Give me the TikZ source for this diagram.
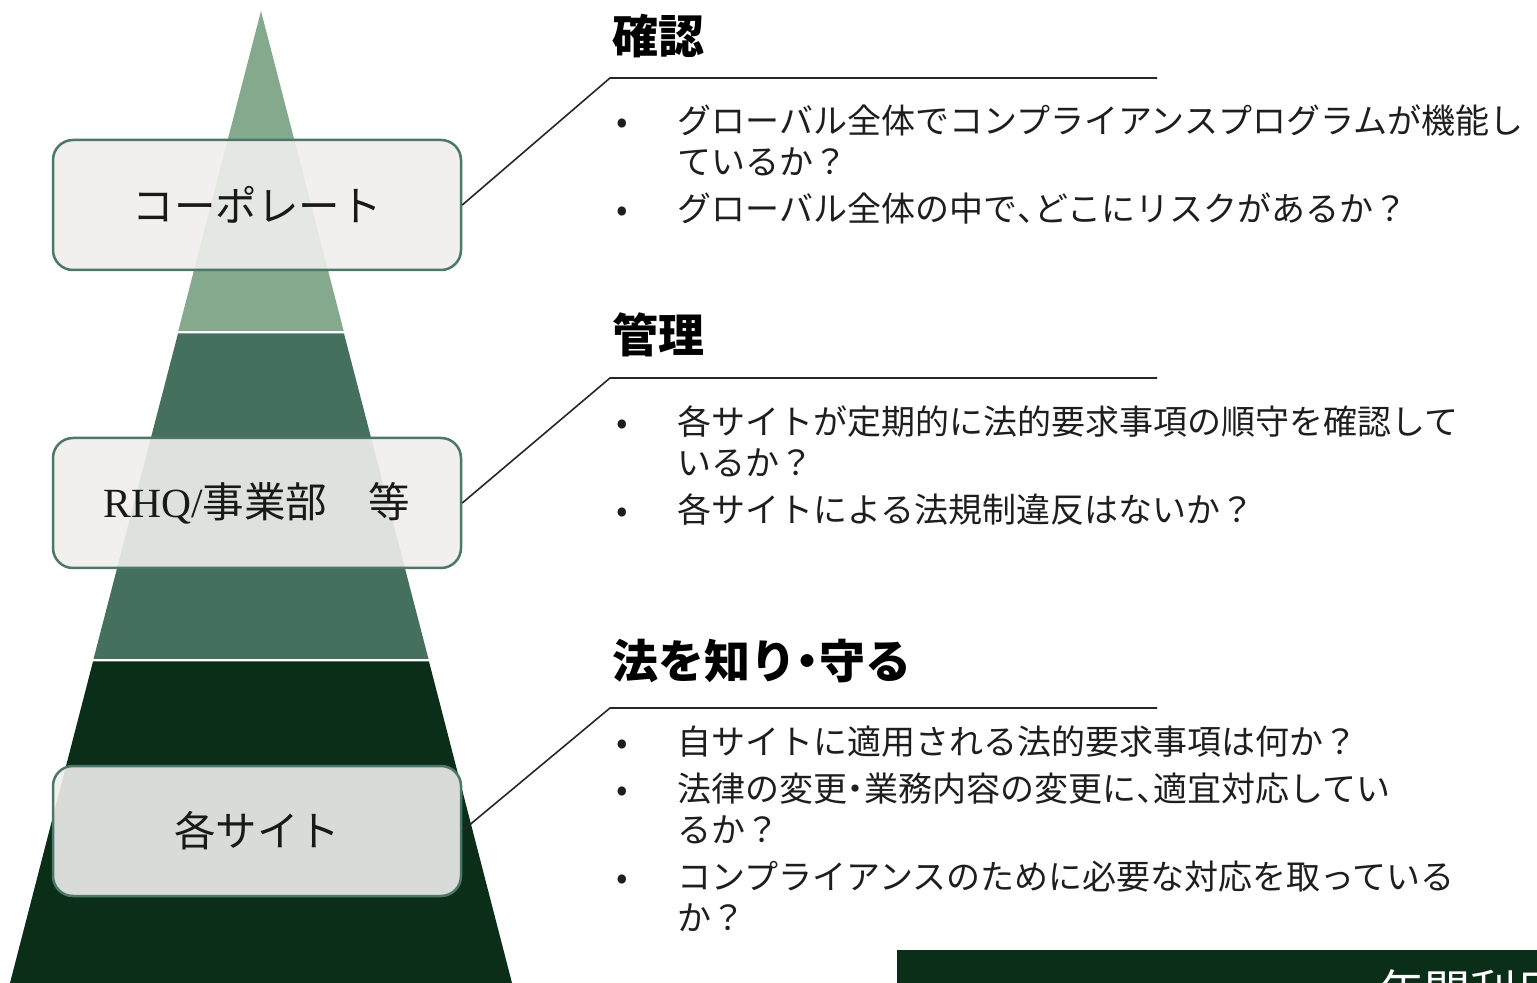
\documentclass[tikz,border=0pt]{standalone}
\usepackage{fontspec}
\newfontfamily\jpfont{Noto Sans CJK JP}
\newfontfamily\latinserif{Liberation Serif}
\usetikzlibrary{positioning}
\definecolor{pyrtop}{RGB}{132, 169, 140}
\definecolor{pyrmid}{RGB}{70, 112, 94}
\definecolor{pyrbot}{RGB}{11, 46, 24}
\definecolor{boxfill}{RGB}{239, 238, 236}
\definecolor{boxline}{RGB}{75, 120, 104}
\definecolor{bodytext}{RGB}{30, 30, 30}
\tikzset{
	level/.style={draw=boxline, line width=1.25pt, fill=boxfill, fill opacity=0.9, text opacity=1,
		rounded corners=10pt, minimum width=204pt, minimum height=65pt,
		font=\jpfont\fontsize{20.75pt}{24pt}\selectfont, text=black!90},
	heading/.style={anchor=west, inner sep=0pt, font=\jpfont\bfseries\fontsize{23pt}{26pt}\selectfont},
	itemlist/.style={anchor=north west, inner sep=0pt, text width=470pt, align=left, text=bodytext,
		font=\jpfont\fontsize{17pt}{20.5pt}\selectfont,
		execute at begin node={\setlength{\parskip}{3pt}}},
	callout/.style={line width=0.8pt, black!85}
}
\newcommand{\bitem}[1]{% {text}
	\par\noindent\hangindent=32.5pt\hangafter=1\makebox[32.5pt][l]{\hspace{2pt}•}#1% bullet + hanging indent
}
\newcommand{\hdot}{\makebox[0.5em]{・}}% narrow middle dot
\newcommand{\hcomma}{\makebox[0.5em][l]{、}}% narrow comma

\begin{document}
\begin{tikzpicture}[x=0.5pt, y=-0.5pt]
	\useasboundingbox (0,0) rectangle (1537,983);
	\clip (0,0) rectangle (1537,983);

	% pyramid
	\fill[pyrtop] (261,11) -- (343.7,331) -- (178.3,331) -- cycle;
	\fill[pyrmid] (178,333.5) -- (344,333.5) -- (428.5,659) -- (93.5,659) -- cycle;
	\fill[pyrbot] (93,661.5) -- (429,661.5) -- (512,983) -- (10,983) -- cycle;

	\node[level] (corp) at (257,205) {コーポレート};
	\node[level] (rhq) at (257,503) {{\latinserif RHQ/}事業部　等};
	\node[level] (site) at (257,831) {各サイト};

	% right side
	\node[heading] (h1) at (612,36) {確認};
	\node[heading] (h2) at (612,335) {管理};
	\node[heading] (h3) at (612,661) {法を知り\hdot 守る};

	\coordinate (k1) at (610,78);  \coordinate (e1) at (1157,78);
	\coordinate (k2) at (610,378); \coordinate (e2) at (1157,378);
	\coordinate (k3) at (610,708); \coordinate (e3) at (1157,708);
	\draw[callout] (corp.east) -- (k1) -- (e1);
	\draw[callout] (rhq.east) -- (k2) -- (e2);
	\draw[callout] (site.east) -- (k3) -- (e3);

	\node[itemlist] (l1) at (612,86) {%
		\bitem{グローバル全体でコンプライアンスプログラムが機能し\newline ているか？}
		\bitem{グローバル全体の中で\hcomma どこにリスクがあるか？}\par};
	\node[itemlist] (l2) at (612,387) {%
		\bitem{各サイトが定期的に法的要求事項の順守を確認して\newline いるか？}
		\bitem{各サイトによる法規制違反はないか？}\par};
	\node[itemlist] (l3) at (612,707) {%
		\bitem{自サイトに適用される法的要求事項は何か？}
		\bitem{法律の変更\hdot 業務内容の変更に\hcomma 適宜対応してい\newline るか？}
		\bitem{コンプライアンスのために必要な対応を取っている\newline か？}\par};

	% cut-off banner at the bottom
	\node[fill=pyrbot, anchor=north west, minimum width=330pt, minimum height=30pt] (banner) at (897,950) {};
	\node[anchor=base west, inner sep=0pt, text=white, font=\jpfont\fontsize{23pt}{26pt}\selectfont] (bannertext) at (1378,1008) {年間利用};
\end{tikzpicture}
\end{document}
